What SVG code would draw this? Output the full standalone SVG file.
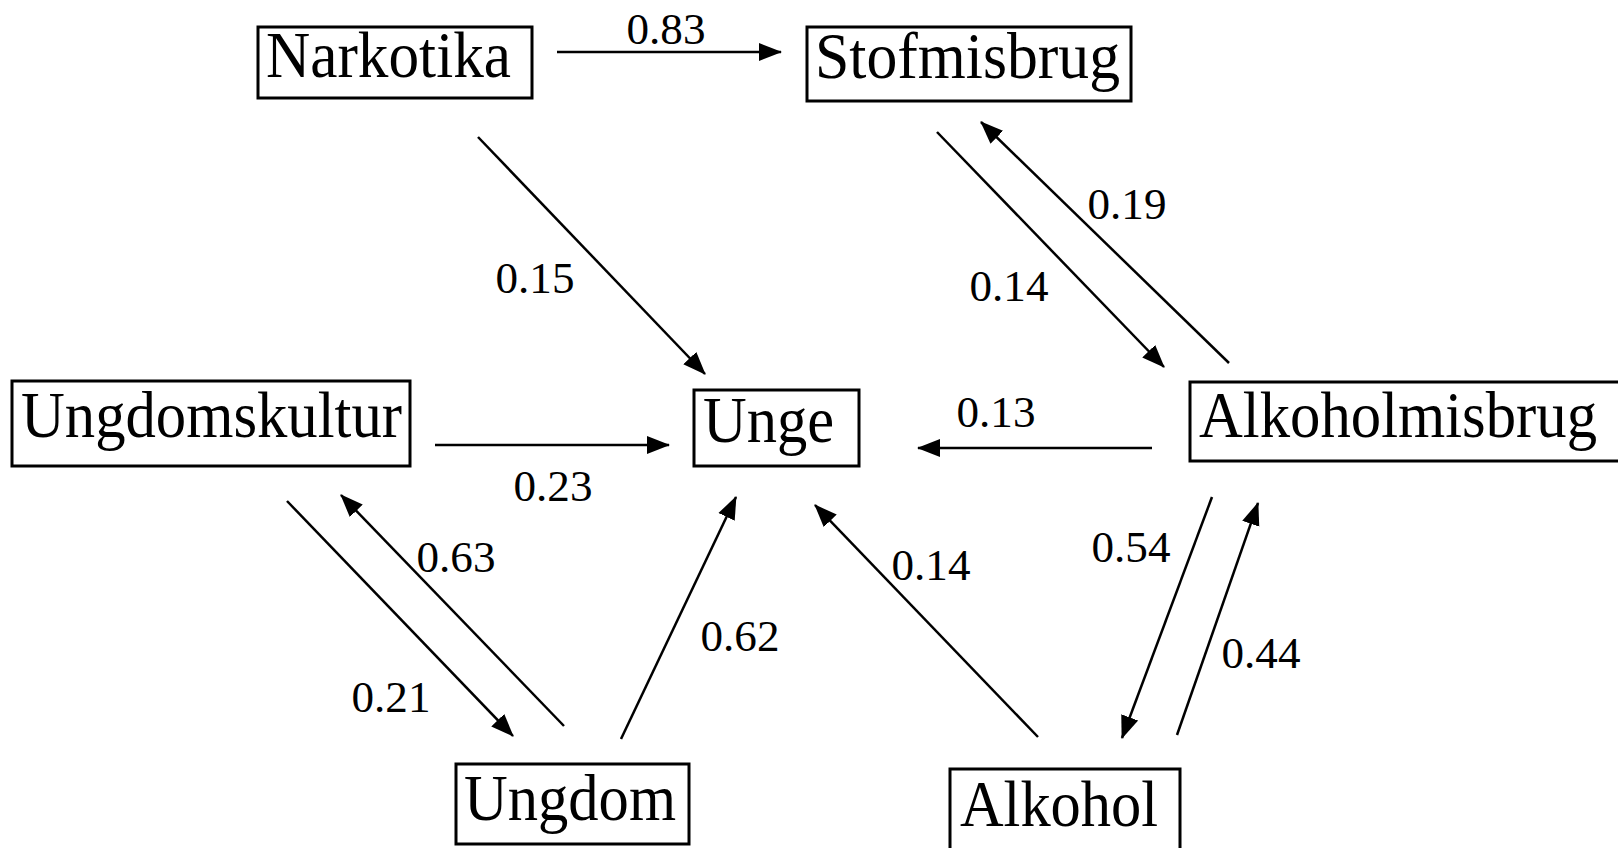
<svg xmlns="http://www.w3.org/2000/svg" width="1618" height="848" viewBox="0 0 1618 848">
  <style>
    .box { fill: #fff; stroke: #000; stroke-width: 3; }
    .node { font-family: "Liberation Serif", "Times New Roman", serif; font-size: 65px; fill: #000; }
    .edge { stroke: #000; stroke-width: 2.5; fill: none; marker-end: url(#arrow); }
    .lbl { font-family: "Liberation Serif", "Times New Roman", serif; font-size: 45px; fill: #000; text-anchor: middle; }
  </style>
  <defs>
    <marker id="arrow" markerUnits="userSpaceOnUse" markerWidth="24" markerHeight="20" refX="22" refY="10" orient="auto">
      <path d="M0,1 L23,10 L0,19 z" fill="#000"/>
    </marker>
  </defs>
  <rect width="1618" height="848" fill="#fff"/>

  <g id="connectors">
    <line class="edge" x1="557" y1="52" x2="781" y2="52"/>
    <line class="edge" x1="478" y1="137" x2="705" y2="374"/>
    <line class="edge" x1="937" y1="132" x2="1164" y2="367"/>
    <line class="edge" x1="1229" y1="363" x2="981" y2="122"/>
    <line class="edge" x1="435" y1="445" x2="669" y2="445"/>
    <line class="edge" x1="1152" y1="448" x2="918" y2="448"/>
    <line class="edge" x1="287" y1="501" x2="513" y2="736"/>
    <line class="edge" x1="564" y1="726" x2="341" y2="495"/>
    <line class="edge" x1="621" y1="739" x2="736" y2="497"/>
    <line class="edge" x1="1038" y1="737" x2="815" y2="505"/>
    <line class="edge" x1="1212" y1="497" x2="1122" y2="738"/>
    <line class="edge" x1="1177" y1="735" x2="1258" y2="503"/>

    <text class="lbl" x="666" y="44" textLength="79" lengthAdjust="spacingAndGlyphs">0.83</text>
    <text class="lbl" x="535" y="293" textLength="79" lengthAdjust="spacingAndGlyphs">0.15</text>
    <text class="lbl" x="1009" y="301" textLength="79" lengthAdjust="spacingAndGlyphs">0.14</text>
    <text class="lbl" x="1127" y="219" textLength="79" lengthAdjust="spacingAndGlyphs">0.19</text>
    <text class="lbl" x="553" y="501" textLength="79" lengthAdjust="spacingAndGlyphs">0.23</text>
    <text class="lbl" x="996" y="427" textLength="79" lengthAdjust="spacingAndGlyphs">0.13</text>
    <text class="lbl" x="391" y="712" textLength="79" lengthAdjust="spacingAndGlyphs">0.21</text>
    <text class="lbl" x="456" y="572" textLength="79" lengthAdjust="spacingAndGlyphs">0.63</text>
    <text class="lbl" x="740" y="651" textLength="79" lengthAdjust="spacingAndGlyphs">0.62</text>
    <text class="lbl" x="931" y="580" textLength="79" lengthAdjust="spacingAndGlyphs">0.14</text>
    <text class="lbl" x="1131" y="562" textLength="79" lengthAdjust="spacingAndGlyphs">0.54</text>
    <text class="lbl" x="1261" y="668" textLength="79" lengthAdjust="spacingAndGlyphs">0.44</text>
  </g>

  <g id="narkotika">
    <rect class="box" x="258" y="27" width="274" height="71"/>
    <text class="node" x="266" y="77" textLength="245" lengthAdjust="spacingAndGlyphs">Narkotika</text>
  </g>
  <g id="stofmisbrug">
    <rect class="box" x="807" y="27" width="324" height="74"/>
    <text class="node" x="815" y="78" textLength="305" lengthAdjust="spacingAndGlyphs">Stofmisbrug</text>
  </g>
  <g id="ungdomskultur">
    <rect class="box" x="12" y="381" width="398" height="85"/>
    <text class="node" x="21" y="437" textLength="381" lengthAdjust="spacingAndGlyphs">Ungdomskultur</text>
  </g>
  <g id="unge">
    <rect class="box" x="694" y="390" width="165" height="76"/>
    <text class="node" x="703" y="442" textLength="131" lengthAdjust="spacingAndGlyphs">Unge</text>
  </g>
  <g id="alkoholmisbrug">
    <!-- box runs past the right margin of the canvas -->
    <rect class="box" x="1190" y="382" width="440" height="79"/>
    <text class="node" x="1199" y="437" textLength="398" lengthAdjust="spacingAndGlyphs">Alkoholmisbrug</text>
  </g>
  <g id="ungdom">
    <rect class="box" x="456" y="764" width="233" height="80"/>
    <text class="node" x="464" y="820" textLength="212" lengthAdjust="spacingAndGlyphs">Ungdom</text>
  </g>
  <g id="alkohol">
    <rect class="box" x="950" y="769" width="230" height="84"/>
    <text class="node" x="960" y="826" textLength="198" lengthAdjust="spacingAndGlyphs">Alkohol</text>
  </g>
</svg>
